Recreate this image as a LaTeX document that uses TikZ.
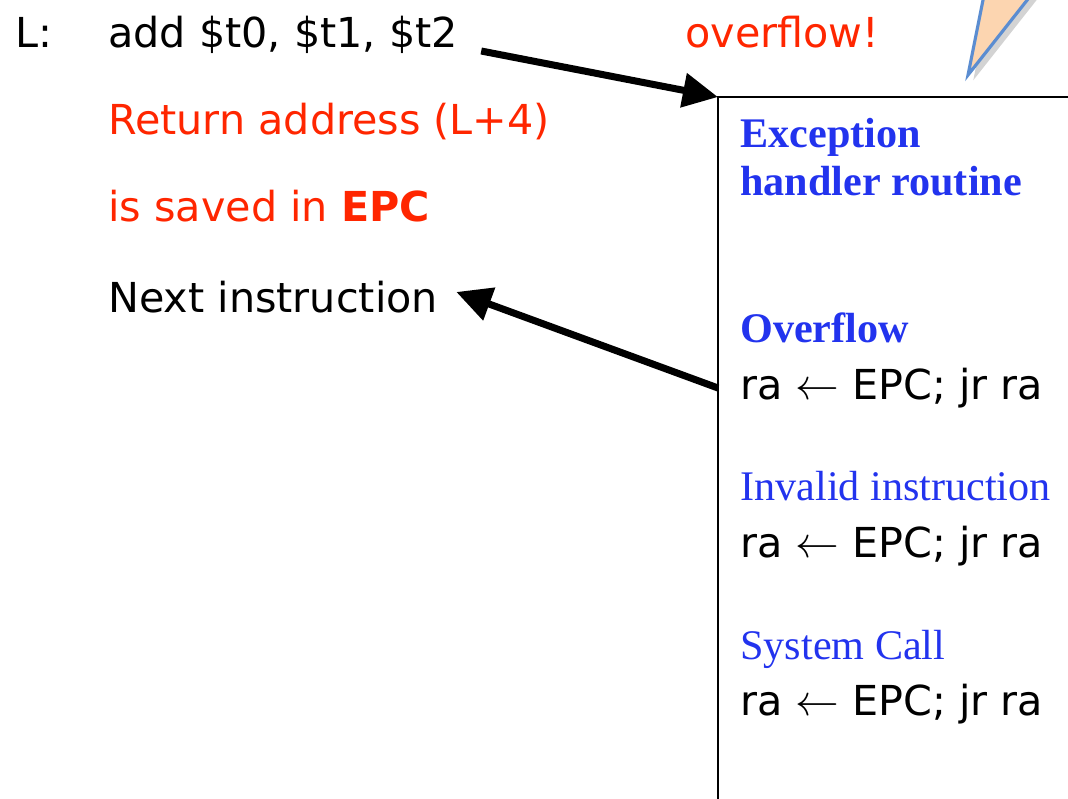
\documentclass[tikz,border=0pt]{standalone}
\usepackage{fontspec}
\setmainfont{Liberation Serif}
\setsansfont{DejaVu Sans}
\usetikzlibrary{arrows.meta,positioning,shadows}

\definecolor{alertred}{RGB}{255,38,0}
\definecolor{handblue}{RGB}{34,51,238}
\definecolor{callfill}{RGB}{252,213,176}
\definecolor{callline}{RGB}{91,141,209}

\begin{document}
\begin{tikzpicture}[x=0.02cm,y=-0.02cm,>={Triangle[length=20pt,width=19pt]},
	code/.style={anchor=base west,inner sep=0pt,font=\sffamily\fontsize{23.5}{28}\selectfont},
	note/.style={code,text=alertred},
	head/.style={anchor=base west,inner sep=0pt,text=handblue,font=\rmfamily\fontsize{24}{28}\selectfont},
	jump/.style={->,line width=4pt}]
	
	\clip (0,0) rectangle (1068,798);
	
	% callout pointer
	\path[fill=callfill,draw=callline,line width=1.8pt,
	drop shadow={shadow xshift=3pt,shadow yshift=-3pt,opacity=0.35}]
	(987,-20) -- (968,75) -- (1043,-20) -- cycle;
	
	% program
	\node[code] (lab) at (15,47) {L:};
	\node[code] (add) at (108,47) {add \$t0, \$t1, \$t2};
	\node[note] (ovfl) at (685,47) {overflow!};
	\node[note, below=1.76cm of add.base west, anchor=base west] (ret) {Return address (L+4)};
	\node[note, below=1.74cm of ret.base west, anchor=base west] (epc) {is saved in \textbf{EPC}};
	\node[code, below=1.82cm of epc.base west, anchor=base west] (next) {Next instruction};
	
	% handler
	\coordinate (corner) at (718,97);
	\draw[line width=1pt] (718,810) -- (corner) -- (1080,97);
	\node[head, font=\rmfamily\bfseries\fontsize{24}{28}\selectfont] (exc) at (740,147) {Exception};
	\node[head, font=\rmfamily\bfseries\fontsize{24}{28}\selectfont, below=0.98cm of exc.base west, anchor=base west] (hdl) {handler routine};
	\node[head, font=\rmfamily\bfseries\fontsize{24}{28}\selectfont, below=2.94cm of hdl.base west, anchor=base west] (ovf) {Overflow};
	\node[code, below=1.14cm of ovf.base west, anchor=base west] (r1) {ra $\leftarrow$ EPC; jr ra};
	\node[head, below=2.02cm of r1.base west, anchor=base west] (inv) {Invalid instruction};
	\node[code, below=1.14cm of inv.base west, anchor=base west] (r2) {ra $\leftarrow$ EPC; jr ra};
	\node[head, below=2.04cm of r2.base west, anchor=base west] (sys) {System Call};
	\node[code, below=1.12cm of sys.base west, anchor=base west] (r3) {ra $\leftarrow$ EPC; jr ra};
	\coordinate (back) at (718,388);
	
	\draw[jump] ([xshift=0.46cm,yshift=-0.08cm]add.base east) -- (corner);
	\draw[jump] (back) -- ([xshift=0.36cm,yshift=0.42cm]next.base east);
\end{tikzpicture}
\end{document}
